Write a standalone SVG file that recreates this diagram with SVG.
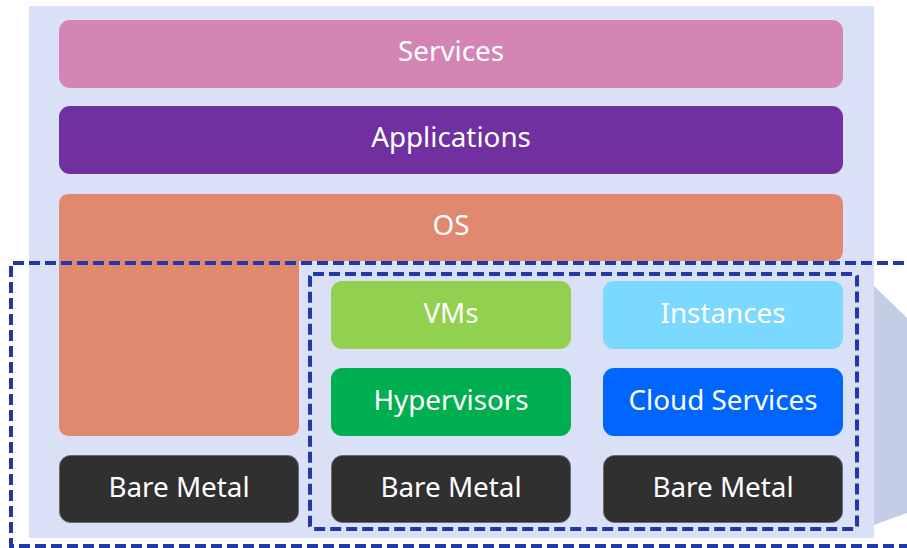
<svg xmlns="http://www.w3.org/2000/svg" width="907" height="548" viewBox="0 0 907 548">
  <style>
    .lbl { font-family: "Noto Sans", "Liberation Sans", sans-serif; font-size: 27.8px; fill: #ffffff; text-anchor: middle; }
    .metal { fill: #303030; stroke: #6a6a72; stroke-width: 1; }
    .dash { fill: none; stroke: #2238a8; stroke-width: 4; stroke-dasharray: 11 5; }
  </style>

  <!-- backdrop slab: front face and side face -->
  <g id="backdrop">
    <polygon points="874,286 907,318 907,513 874,525" fill="#c3cde6"/>
    <polygon points="29,6 874,6 874,538 29,538" fill="#dae0f6"/>
  </g>

  <g id="services">
    <rect x="59" y="20" width="784" height="68" rx="11" fill="#d585b4"/>
    <text class="lbl" x="451" y="61">Services</text>
  </g>

  <g id="applications">
    <rect x="59" y="106" width="784" height="68" rx="11" fill="#7030a0"/>
    <text class="lbl" x="451" y="147">Applications</text>
  </g>

  <g id="os">
    <path d="M70,194 H832 Q843,194 843,205 V250 Q843,261 832,261 H299 V425 Q299,436 288,436 H70 Q59,436 59,425 V205 Q59,194 70,194 Z" fill="#e08870"/>
    <text class="lbl" x="451" y="235">OS</text>
  </g>

  <g id="bare-metal-1">
    <rect class="metal" x="59.5" y="455.5" width="239" height="67" rx="11"/>
    <text class="lbl" x="179" y="497">Bare Metal</text>
  </g>

  <g id="vms">
    <rect x="331" y="281" width="240" height="68" rx="11" fill="#92d050"/>
    <text class="lbl" x="451" y="323">VMs</text>
  </g>

  <g id="instances">
    <rect x="603" y="281" width="240" height="68" rx="11" fill="#7bd8ff"/>
    <text class="lbl" x="723" y="323">Instances</text>
  </g>

  <g id="hypervisors">
    <rect x="331" y="368" width="240" height="68" rx="11" fill="#00b050"/>
    <text class="lbl" x="451" y="410">Hypervisors</text>
  </g>

  <g id="cloud-services">
    <rect x="603" y="368" width="240" height="68" rx="11" fill="#0066ff"/>
    <text class="lbl" x="723" y="410">Cloud Services</text>
  </g>

  <g id="bare-metal-2">
    <rect class="metal" x="331.5" y="455.5" width="239" height="67" rx="11"/>
    <text class="lbl" x="451" y="497">Bare Metal</text>
  </g>

  <g id="bare-metal-3">
    <rect class="metal" x="603.5" y="455.5" width="239" height="67" rx="11"/>
    <text class="lbl" x="723" y="497">Bare Metal</text>
  </g>

  <!-- dashed grouping frames -->
  <g id="frames">
    <path class="dash" d="M920,263 H11 V546 H920"/>
    <rect class="dash" x="310" y="274" width="547" height="255" rx="3"/>
  </g>
</svg>
